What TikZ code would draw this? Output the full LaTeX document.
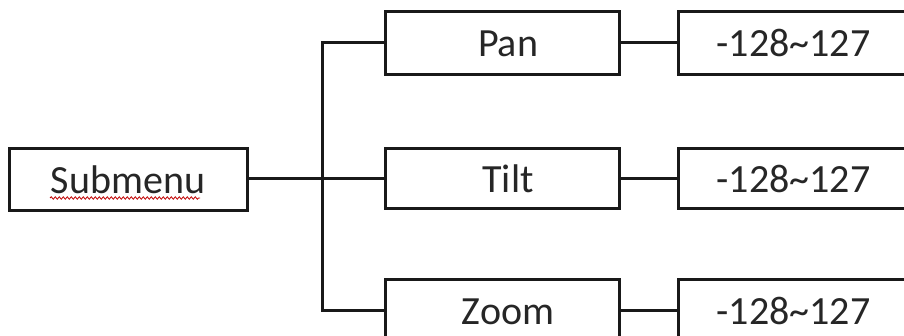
\documentclass[tikz,border=0pt]{standalone}
\usepackage{fontspec}
\setmainfont{Carlito}
\usetikzlibrary{decorations.pathmorphing}
\begin{document}
\begin{tikzpicture}[x=1pt,y=-1pt,
  box/.style={draw=black!90, line width=3pt, rectangle, inner sep=0pt,
    font=\fontsize{40}{40}\selectfont, text=black!85, text height=27pt, text depth=0pt},
  midbox/.style={box, minimum width=234pt},
  valbox/.style={box, minimum height=62pt, text width=250pt, inner xsep=38pt, align=left, anchor=west},
  link/.style={draw=black!90, line width=3pt}
]
\useasboundingbox (0,0) rectangle (904,336);
\clip (0,0) rectangle (904,336);
\node[box, minimum width=238pt, minimum height=62pt] (sub) at (128,180) {Submenu};
\node[midbox, minimum height=63pt] (pan) at (502,43) {\hspace*{12pt}Pan};
\node[midbox, minimum height=60pt] (tilt) at (502,179) {\hspace*{12pt}Tilt};
\node[midbox, minimum height=62pt] (zoom) at (502,311) {\hspace*{12pt}Zoom};
\node[valbox, minimum height=63pt] (vpan) at (677,43) {-128\textasciitilde127};
\node[valbox, minimum height=60pt] (vtilt) at (677,179) {-128\textasciitilde127};
\node[valbox] (vzoom) at (677,311) {-128\textasciitilde127};
\coordinate (trunk) at (322,179);
\draw[link] (sub.east |- trunk) -- (tilt.west);
\draw[link] (pan.west) -| (trunk) |- (zoom.west);
\draw[link] (pan.east) -- (vpan.west);
\draw[link] (tilt.east) -- (vtilt.west);
\draw[link] (zoom.east) -- (vzoom.west);
\draw[red!75!black, line width=0.8pt, decorate, decoration={snake, amplitude=1.2pt, segment length=4pt}] (50,198) -- (200,198);
\end{tikzpicture}
\end{document}
